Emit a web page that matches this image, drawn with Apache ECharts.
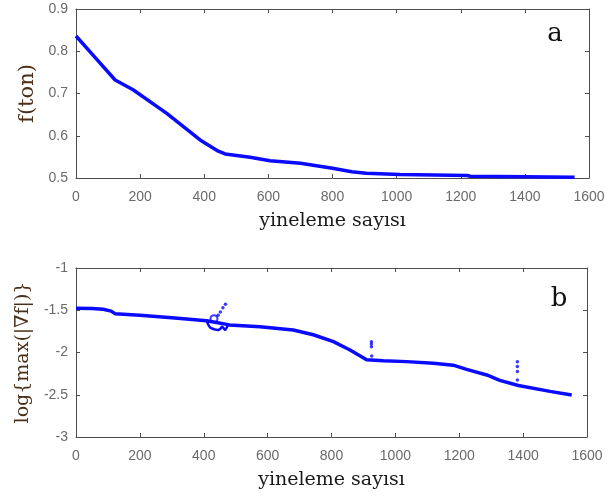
<!DOCTYPE html>
<html>
<head>
<meta charset="utf-8">
<script src="https://cdn.jsdelivr.net/npm/echarts@6/dist/echarts.min.js"></script>
<style>
  html, body { margin: 0; padding: 0; background: #fff; }
  #chart { width: 614px; height: 497px; }
</style>
</head>
<body>
<div id="chart"></div>
<script>
// (a) objective value per iteration
const iterA = [0, 60, 122, 178, 283, 387, 440, 465, 543, 605, 700, 800, 860, 905, 1010, 1220, 1230, 1400, 1555];
const fTon  = [0.836, 0.785, 0.732, 0.709, 0.653, 0.590, 0.565, 0.557, 0.549, 0.541, 0.535, 0.523, 0.515, 0.511, 0.508, 0.506, 0.504, 0.503, 0.502];

// (b) log of max gradient magnitude per iteration
const iterB = [0, 50, 85, 110, 122, 200, 300, 409, 440, 472, 480, 576, 680, 743, 806, 858, 910, 962, 1035, 1119, 1181, 1223, 1286, 1327, 1385, 1484, 1552];
const logG  = [-1.477, -1.478, -1.489, -1.51, -1.54, -1.56, -1.59, -1.624, -1.645, -1.667, -1.675, -1.694, -1.734, -1.79, -1.872, -1.97, -2.085, -2.097, -2.108, -2.128, -2.15, -2.2, -2.266, -2.33, -2.39, -2.46, -2.503];

// oscillation of the gradient around iterations 410-475
const wobIter = [409, 414, 420, 432, 445, 452, 457, 462, 467, 471, 475];
const wobLog  = [-1.624, -1.67, -1.705, -1.725, -1.735, -1.72, -1.69, -1.71, -1.735, -1.72, -1.685];

// isolated gradient jumps drawn as dots
const jumpIter = [445, 452, 460, 468, 925, 925, 925, 926, 1382, 1382, 1382, 1382];
const jumpLog  = [-1.56, -1.52, -1.47, -1.43, -1.872, -1.90, -1.931, -2.04, -2.108, -2.167, -2.226, -2.325];

// small loop of the trajectory near iteration 432
const loopIter = [432];
const loopLog  = [-1.60];

const pairs = (xs, ys) => xs.map((x, i) => [x, ys[i]]);

const BLUE = '#0a0aff';
const AXIS = '#4d4d4d';
const TICKTXT = '#6a6a6a';
const serif = '"DejaVu Serif", "Liberation Serif", serif';
const sans = '"Liberation Sans", Arial, sans-serif';

function xAxes(gridIndex) {
  const common = {
    type: 'value', gridIndex, min: 0, max: 1600, interval: 200,
    axisLine: { show: true, onZero: false, lineStyle: { color: AXIS, width: 1 } },
    axisTick: { show: true, inside: true, length: 4, lineStyle: { color: AXIS } },
    splitLine: { show: false }
  };
  return [
    Object.assign({}, common, {
      position: 'bottom',
      axisLabel: { color: TICKTXT, fontFamily: sans, fontSize: 14, margin: 12, formatter: v => String(v) },
      name: 'yineleme sayısı', nameLocation: 'middle', nameGap: 34,
      nameTextStyle: { color: '#1a1a1a', fontFamily: serif, fontSize: 19 }
    }),
    Object.assign({}, common, { position: 'top', axisLabel: { show: false } })
  ];
}

function yAxes(gridIndex, min, max, interval, name, gap, size, fmt) {
  const common = {
    type: 'value', gridIndex, min, max, interval,
    axisLine: { show: true, onZero: false, lineStyle: { color: AXIS, width: 1 } },
    axisTick: { show: true, inside: true, length: 4, lineStyle: { color: AXIS } },
    splitLine: { show: false }
  };
  return [
    Object.assign({}, common, {
      position: 'left',
      axisLabel: { color: TICKTXT, fontFamily: sans, fontSize: 14, margin: 8, formatter: fmt },
      name, nameLocation: 'middle', nameRotate: 90, nameGap: gap,
      nameTextStyle: { color: '#4a3018', fontFamily: serif, fontSize: size }
    }),
    Object.assign({}, common, { position: 'right', axisLabel: { show: false } })
  ];
}

const chart = echarts.init(document.getElementById('chart'), null, { renderer: 'canvas' });
chart.setOption({
  animation: false,
  backgroundColor: '#fff',
  grid: [
    { left: 76, top: 9, width: 513, height: 169 },
    { left: 76, top: 268, width: 511, height: 169 }
  ],
  xAxis: [...xAxes(0), ...xAxes(1)],
  yAxis: [
    ...yAxes(0, 0.5, 0.9, 0.1, 'f(ton)', 37, 21, v => v.toFixed(1)),
    ...yAxes(1, -3, -1, 0.5, 'log{max(|∇f|)}', 41, 19, v => String(v))
  ],
  graphic: [
    { type: 'text', x: 555, y: 34, style: { text: 'a', font: '26px ' + serif, fill: '#111', align: 'center', verticalAlign: 'middle' } },
    { type: 'text', x: 559, y: 299, style: { text: 'b', font: '26px ' + serif, fill: '#111', align: 'center', verticalAlign: 'middle' } }
  ],
  series: [
    {
      type: 'line', xAxisIndex: 0, yAxisIndex: 0,
      data: pairs(iterA, fTon), showSymbol: false,
      lineStyle: { color: BLUE, width: 3.5 }
    },
    {
      type: 'line', xAxisIndex: 2, yAxisIndex: 2,
      data: pairs(iterB, logG), showSymbol: false,
      lineStyle: { color: BLUE, width: 3.5 }
    },
    {
      type: 'line', xAxisIndex: 2, yAxisIndex: 2,
      data: pairs(wobIter, wobLog), showSymbol: false,
      lineStyle: { color: BLUE, width: 2.5 }
    },
    {
      type: 'scatter', xAxisIndex: 2, yAxisIndex: 2,
      data: pairs(jumpIter, jumpLog), symbol: 'circle', symbolSize: 3.5,
      itemStyle: { color: BLUE }
    },
    {
      type: 'scatter', xAxisIndex: 2, yAxisIndex: 2,
      data: pairs(loopIter, loopLog), symbol: 'emptyCircle', symbolSize: 7,
      itemStyle: { color: BLUE, borderColor: BLUE, borderWidth: 2 }
    }
  ]
});
</script>
</body>
</html>
